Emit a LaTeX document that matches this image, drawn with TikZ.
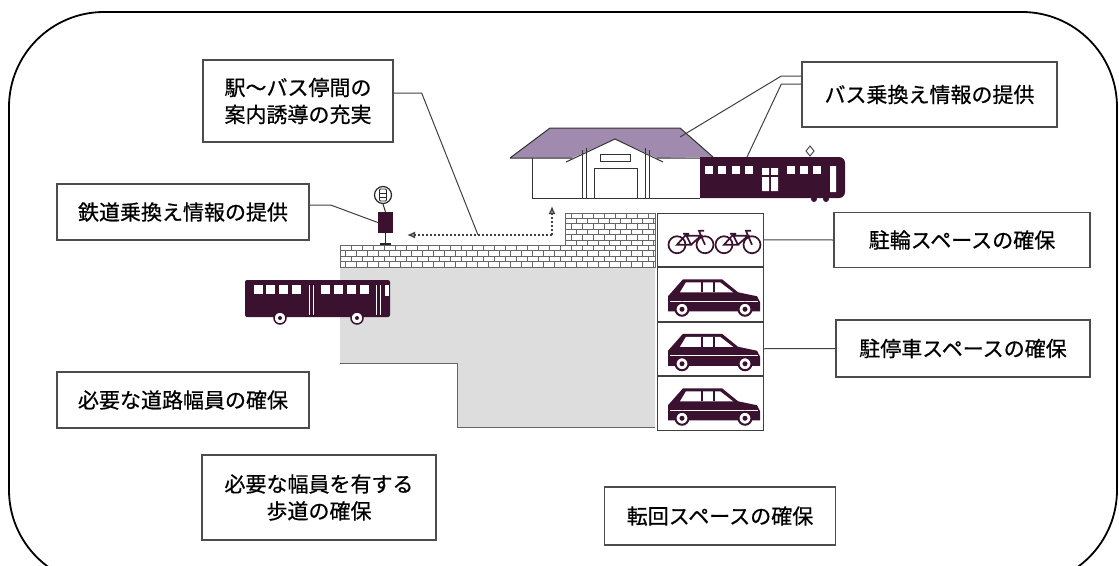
\documentclass[tikz,border=0pt]{standalone}
\usepackage{fontspec}
\newfontfamily\jp[FakeBold=0.6]{Noto Sans CJK JP}
\usetikzlibrary{
  arrows.meta,
  positioning
}
\definecolor{vehicle}{HTML}{3A1230}
\definecolor{roofcol}{HTML}{A08AAE}
\definecolor{road}{HTML}{DDDDDD}

\begin{document}
\begin{tikzpicture}[x=1pt,y=-1pt,
      infobox/.style={
         rectangle,
         draw=black!70,
         line width=1.3pt,
         fill=white,
         inner sep=0pt,
         align=center,
         font=\jp\fontsize{21}{27}\selectfont
      },
      cell/.style={
         rectangle,
         draw=black!75,
         line width=1pt,
         fill=white,
         inner sep=0pt,
         minimum width=106pt,
         minimum height=53.5pt
      },
      wire/.style={draw=black!75,line width=1pt},
      kerb/.style={draw=black!60,line width=1pt},
      mortar/.style={draw=black!60,line width=0.8pt},
      outline/.style={draw=black!80,line width=1pt},
      guide/.style={draw=black!75,line width=1.4pt,dash pattern=on 2.5pt off 1.5pt,
         -{Latex[open,length=8pt,width=7pt]}},
      point/.style={coordinate},
      car/.pic={
         \fill[vehicle] (-27,-15) -- (12,-15) -- (28,-2) -- (47,2) -- (50,8)
            -- (50,17) -- (-42,17) -- (-42,2) -- cycle;
         \fill[white] (-30,-2) -- (-24,-12) -- (10,-12) -- (23,-2) -- cycle;
         \draw[vehicle,line width=2pt] (-8,-12) -- (-8,-2) (4,-12) -- (4,-2);
         \draw[white,line width=1pt] (-40,7) -- (48,7);
         \foreach \wx in {-28,35} {
            \draw[vehicle,fill=white,line width=2pt] (\wx,15) circle (6.5);
            \fill[vehicle] (\wx,15) circle (2.5);
         }
      },
      bike/.pic={
         \draw[vehicle,line width=1.7pt] (-14,4) circle (8.5) (14,4) circle (8.5);
         \draw[vehicle,line width=1.7pt] (-14,4) -- (-5,-6) -- (0,4) -- cycle
            (-5,-5) -- (10,-5) -- (0,4) (10,-5) -- (14,4)
            (10,-5) -- (8,-10) -- (13,-10) (-8,-7) -- (-2,-7);
      }
    ]
\clip (0,0) rectangle (1119,565);

% road and turning area
\fill[road] (340,267) -- (655,267) -- (655,427) -- (457,427) -- (457,363) -- (340,363) -- cycle;
\draw[kerb] (340,363) -- (457,363) -- (457,427) -- (655,427);

% paved footway
\begin{scope}
  \clip (340,245) -- (565,245) -- (565,213) -- (655,213) -- (655,267) -- (340,267) -- cycle;
  \fill[white] (340,213) rectangle (655,267);
  \foreach \r in {0,...,9} {
    \pgfmathsetmacro\yy{213+\r*5.4}
    \pgfmathsetmacro\off{mod(\r,2)*5.5}
    \draw[mortar] (340,\yy) -- (655,\yy);
    \foreach \c in {0,...,29}
      \draw[mortar] (340+\off+\c*11,\yy) -- ++(0,5.4);
  }
\end{scope}
\draw[kerb] (340,245) -- (565,245) -- (565,213) -- (655,213) -- (655,267) -- (340,267) -- cycle;

% parking bays
\node[cell] (bikecell) at (710,239.75) {};
\node[cell,below=0pt of bikecell] (car1) {};
\node[cell,below=0pt of car1] (car2) {};
\node[cell,below=0pt of car2] (car3) {};
\pic at ([shift={(-19,1)}]bikecell.center) {bike};
\pic at ([shift={(28,1)}]bikecell.center) {bike};
\foreach \c in {car1,car2,car3}
  \pic at (\c) {car};

% station building
\fill[white] (532,158) rectangle (700,198);
\draw[outline] (532,158) -- (532,198) -- (700,198);
\fill[roofcol] (510,158) -- (550,128) -- (680,128) -- (713,157) -- (657,158)
   -- (615,139) -- (572,158) -- cycle;
\draw[outline] (510,158) -- (550,128) -- (680,128) -- (713,157)
   (510,158) -- (572,158) (657,158) -- (700,158);
\draw[outline] (566,162) -- (615,139) -- (663,162);
\draw[outline] (582,150) -- (582,198) (586,148) -- (586,198)
   (645,148) -- (645,198) (649,150) -- (649,198);
\draw[outline] (600,154) rectangle (630,161);
\draw[outline] (594,168) rectangle (637,198);

% train
\fill[vehicle] (700,157) [rounded corners=6pt] -- (845,157) -- (845,198)
   [sharp corners] -- (700,198) -- cycle;
\foreach \x in {705,718,732,745,787,800,813}
  \fill[white] (\x,166) rectangle ++(8,8);
\fill[white] (762,168) rectangle (769,191) (771,168) rectangle (778,191) (830,166) rectangle (836,192);
\draw[vehicle,line width=1.5pt] (760,176) -- (780,176);
\draw[black!70,line width=1pt] (810,146) -- (814,151) -- (810,156) -- (806,151) -- cycle;
\fill[vehicle] (814,199) circle (3) (826,199) circle (3);

% bus
\fill[vehicle,rounded corners=2pt] (245,280) rectangle (390,317);
\foreach \x in {254,266,279,292,321,334,347,360}
  \fill[white] (\x,285) rectangle ++(9,9);
\draw[white,line width=1pt] (309,285) -- (309,315) (313,285) -- (313,315)
   (376,285) -- (376,315) (380,285) -- (380,315);
\fill[white] (385,285) rectangle (389,296);
\foreach \x in {280,357} {
  \draw[vehicle,fill=white,line width=1.5pt] (\x,318) circle (6);
  \fill[vehicle] (\x,318) circle (2);
}

% bus stop pole
\node[circle,draw=black!85,line width=1.2pt,minimum size=17pt,inner sep=0pt,fill=white] (stopmark) at (383,195) {};
\draw[black!85,line width=0.9pt,rounded corners=1pt] (379.5,189) rectangle (386.5,201);
\draw[black!85,line width=0.9pt] (379.5,193) -- (386.5,193) (379.5,197) -- (386.5,197);
\node[fill=vehicle,minimum width=15pt,minimum height=21pt,inner sep=0pt] (sign) at (385.5,222.5) {};
\draw[black!85,line width=1pt] (stopmark.south) -- (sign.north);
\draw[black!85,line width=1.5pt] (sign.south) -- ++(0,11);
\draw[black!85,line width=1.5pt] (380,244) -- (391,244);

% walking route
\node (turn) [point] at (552,235) {};
\node (door) [point] at (552,206) {};
\node (stop) [point] at (407,235) {};
\node (guidept) [point] at (478,235) {};
\node (eave) [point] at (680,137) {};
\node (trainroof) [point] at (747,157) {};
\draw[guide] (turn) -- (door);
\draw[guide] (turn) -- (stop);

% labels
\node[infobox,minimum width=190pt,minimum height=82pt] (guidebox) at (298,101) {駅～バス停間の\\案内誘導の充実};
\node[infobox,minimum width=255pt,minimum height=65pt] (businfo) at (929.5,94.5) {バス乗換え情報の提供};
\node[infobox,minimum width=252pt,minimum height=56pt] (railinfo) at (183,212) {鉄道乗換え情報の提供};
\node[infobox,minimum width=256pt,minimum height=55pt] (bikebox) at (962,240) {駐輪スペースの確保};
\node[infobox,minimum width=254pt,minimum height=57pt] (carbox) at (963,348.5) {駐停車スペースの確保};
\node[infobox,minimum width=252pt,minimum height=56pt] (roadbox) at (183,400) {必要な道路幅員の確保};
\node[infobox,minimum width=234pt,minimum height=85pt] (walkbox) at (319,497.5) {必要な幅員を有する\\歩道の確保};
\node[infobox,minimum width=231pt,minimum height=58pt] (turnbox) at (720,516) {転回スペースの確保};

\draw[wire] ([yshift=8pt]guidebox.east) -- ++(28,0) -- (guidept);
\draw[wire] ([yshift=7pt]railinfo.east) -- ++(21,0) -- (sign.west);
\draw[wire] ([yshift=18.5pt]businfo.west) -- ++(-20,0) -- (eave);
\draw[wire] ([yshift=10.5pt]businfo.west) -- ++(-20,0) -- (trainroof);
\draw[wire] (bikecell.east) -- (bikebox.west);
\draw[wire] (car2.east) -- (carbox.west);

% frame
\draw[line width=1.8pt,rounded corners=95pt] (9,12) rectangle (1117,585);
\end{tikzpicture}
\end{document}
